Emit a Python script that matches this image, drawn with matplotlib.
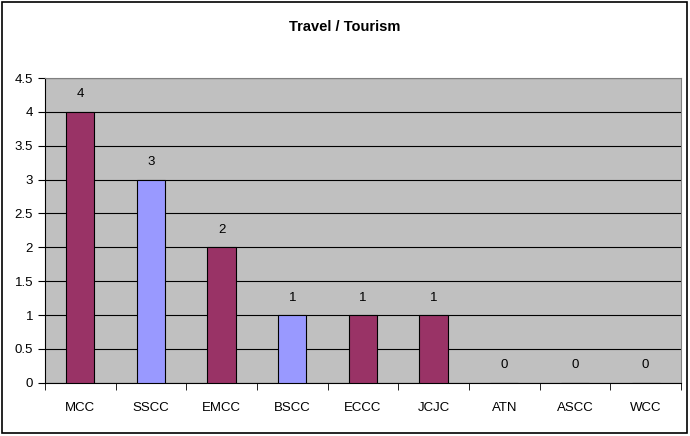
import matplotlib.pyplot as plt
from matplotlib.patches import Rectangle
import numpy as np

# data
colleges = ["MCC", "SSCC", "EMCC", "BSCC", "ECCC", "JCJC", "ATN", "ASCC", "WCC"]
counts = [4, 3, 2, 1, 1, 1, 0, 0, 0]
bar_colors = ["#993366", "#9999FF", "#993366", "#9999FF", "#993366",
              "#993366", "#993366", "#993366", "#993366"]

plt.rcParams['font.family'] = ['Liberation Sans', 'DejaVu Sans']

fig = plt.figure(figsize=(6.9, 4.36), dpi=100)
ax = fig.add_axes([0.065, 0.122, 0.922, 0.699])

x = np.arange(len(colleges))
ax.bar(x, counts, width=0.4, color=bar_colors, edgecolor="black", linewidth=0.8, zorder=3)

# value labels above each bar
for i in range(len(counts)):
    ax.text(x[i], counts[i] + 0.17, str(counts[i]), ha="center", va="bottom", fontsize=9.5)

ax.set_facecolor("#C0C0C0")
ax.set_xlim(-0.5, len(colleges) - 0.5)
ax.set_ylim(0, 4.5)
ax.set_yticks(np.arange(0, 4.6, 0.5))
ax.set_yticklabels(["0", "0.5", "1", "1.5", "2", "2.5", "3", "3.5", "4", "4.5"], fontsize=9.5)
ax.yaxis.grid(True, color="black", linewidth=0.8, zorder=1)
ax.set_axisbelow(True)

# category labels centred, tick marks between categories
ax.set_xticks(x)
ax.set_xticklabels(colleges, fontsize=9.5)
ax.tick_params(axis="x", length=0, pad=14)
ax.set_xticks(np.arange(-0.5, len(colleges), 1), minor=True)
ax.tick_params(axis="x", which="minor", length=5, color="black", direction="out")
ax.tick_params(axis="y", length=5, direction="out")

for side in ["top", "right"]:
    ax.spines[side].set_color("#808080")
for side in ["left", "bottom"]:
    ax.spines[side].set_color("black")

fig.text(0.5, 0.938, "Travel / Tourism", ha="center", va="center", fontsize=10.5, fontweight="bold")

# outer frame around the whole chart
fig.patches.append(Rectangle((0.003, 0.008), 0.993, 0.987, transform=fig.transFigure,
                             fill=False, edgecolor="black", linewidth=1.2))

plt.savefig("out.png", dpi=100)
plt.close()
